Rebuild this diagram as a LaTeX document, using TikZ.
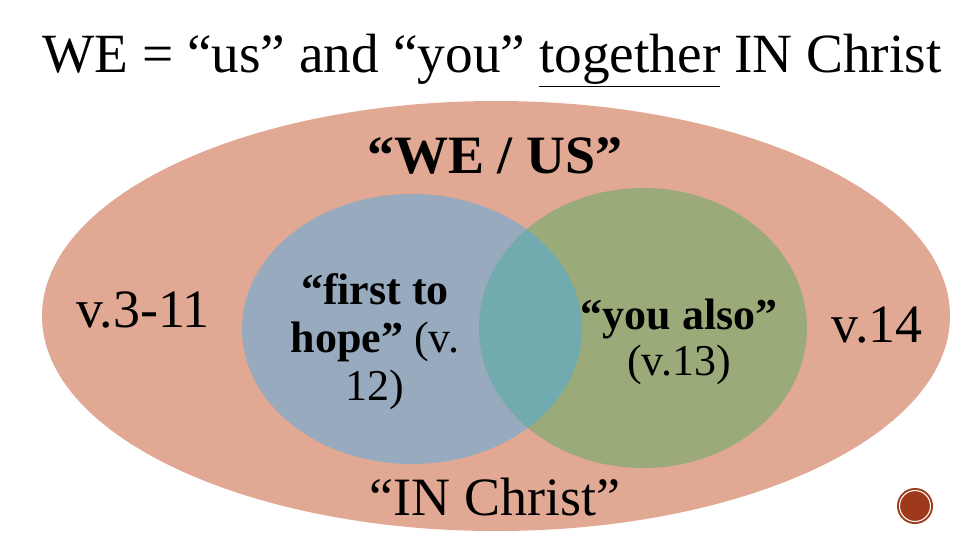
\documentclass[tikz,border=0pt]{standalone}
\usepackage{fontspec}
\setmainfont{Liberation Serif}
\definecolor{outerc}{HTML}{E1A893}
\definecolor{bluec}{HTML}{97AABE}
\definecolor{greenc}{HTML}{9AAA78}
\definecolor{overc}{HTML}{71ABAF}
\definecolor{rustc}{HTML}{9E391C}
\tikzset{
  lbl/.style={inner sep=0pt, text=black, align=center},
  big/.style={font=\fontsize{40.5}{46}\selectfont},
  ttl/.style={font=\fontsize{41.5}{48}\selectfont},
  mid/.style={font=\fontsize{33}{36}\selectfont},
  midb/.style={font=\fontsize{33}{34}\selectfont},
}
\begin{document}
\begin{tikzpicture}[x=0.75pt,y=-0.75pt]
\useasboundingbox (0,0) rectangle (960,540);
\fill[white] (0,0) rectangle (960,540);
% outer ellipse
\fill[outerc] (496,316) ellipse [x radius=454, y radius=215];
% circles
\fill[bluec] (412,329) ellipse [x radius=170, y radius=135];
\fill[greenc] (643,328) ellipse [x radius=164, y radius=140];
\begin{scope}
  \clip (643,328) ellipse [x radius=164, y radius=140];
  \fill[overc] (412,329) ellipse [x radius=170, y radius=135];
\end{scope}
% title
\node[lbl, ttl, anchor=base] (title) at (492,72) {WE = “us” and “you” \underline{together} IN Christ};
% labels
\node[lbl, big, anchor=base] (weus) at (495,173) {\textbf{“WE / US”}};
\node[lbl, big, anchor=base] (v311) at (143,327) {v.3-11};
\node[lbl, big, anchor=base] (v14) at (877,342) {v.14};
\node[lbl, big, anchor=base] (inchrist) at (495,515) {“IN Christ”};
\node[lbl, mid, anchor=base] (first) at (375,400) {\textbf{“first to}\\\textbf{hope”} (v.\\12)};
\node[lbl, midb, anchor=base] (you) at (679,375) {\textbf{“you also”}\\(v.13)};
% corner badge
\fill[rustc] (915,506) circle [radius=18];
\draw[white, line width=0.8pt] (915,506) circle [radius=15.5];
\end{tikzpicture}
\end{document}
